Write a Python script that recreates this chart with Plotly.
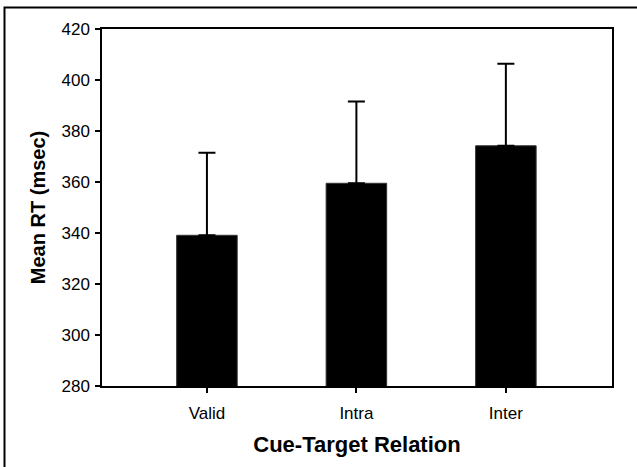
import plotly.graph_objects as go

categories = ["Valid", "Intra", "Inter"]
mean_rt = [339.1, 359.5, 374.2]
error_up = [32.4, 32.1, 32.2]
y_ticks = [280, 300, 320, 340, 360, 380, 400, 420]

W, H = 637, 467
L, R, T, B = 102, 25, 29, 81
pw, ph = W - L - R, H - T - B

fig = go.Figure()
fig.add_trace(go.Bar(
    x=list(range(len(categories))),
    y=mean_rt,
    width=0.405,
    marker=dict(color="black", line=dict(color="#333333", width=1)),
    error_y=dict(type="data", array=error_up, arrayminus=[0] * 3, symmetric=False,
                 color="black", thickness=2, width=8.5),
    showlegend=False,
))

font_family = "Liberation Sans, Arial, sans-serif"
fig.update_layout(
    width=W, height=H,
    margin=dict(l=L, r=R, t=T, b=B, pad=0),
    paper_bgcolor="white", plot_bgcolor="white",
    font=dict(family=font_family, color="black", size=17),
    xaxis=dict(
        range=[-0.702, 2.71],
        tickmode="array", tickvals=list(range(len(categories))), ticktext=categories,
        ticks="outside", ticklen=5, tickwidth=1.5, tickcolor="black",
        showline=True, linecolor="black", linewidth=1.5, mirror=True,
        showgrid=False, zeroline=False,
        tickfont=dict(size=17), ticklabelstandoff=6,
        title=dict(text="<b>Cue-Target Relation</b>", font=dict(size=22), standoff=14),
    ),
    yaxis=dict(
        range=[280, 420],
        tickmode="array", tickvals=y_ticks,
        ticks="outside", ticklen=5, tickwidth=1.5, tickcolor="black",
        showline=True, linecolor="black", linewidth=1.5, mirror=True,
        showgrid=False, zeroline=False,
        tickfont=dict(size=17), ticklabelstandoff=2,
        title=dict(text="<b>Mean RT (msec)</b>", font=dict(size=20), standoff=10),
    ),
)

# outer figure frame (extends beyond right/bottom edges)
fig.add_shape(type="rect", xref="paper", yref="paper",
              x0=(4.5 - L) / pw, x1=(W + 10 - L) / pw,
              y0=-(H + 10 - (H - B)) / ph, y1=((H - B) - 7.5) / ph,
              line=dict(color="black", width=2), fillcolor="rgba(0,0,0,0)", layer="below")

fig.write_html("out.html",
               config={"displayModeBar": False},
               post_script="document.body.style.margin='0';document.body.style.overflow='hidden';")
